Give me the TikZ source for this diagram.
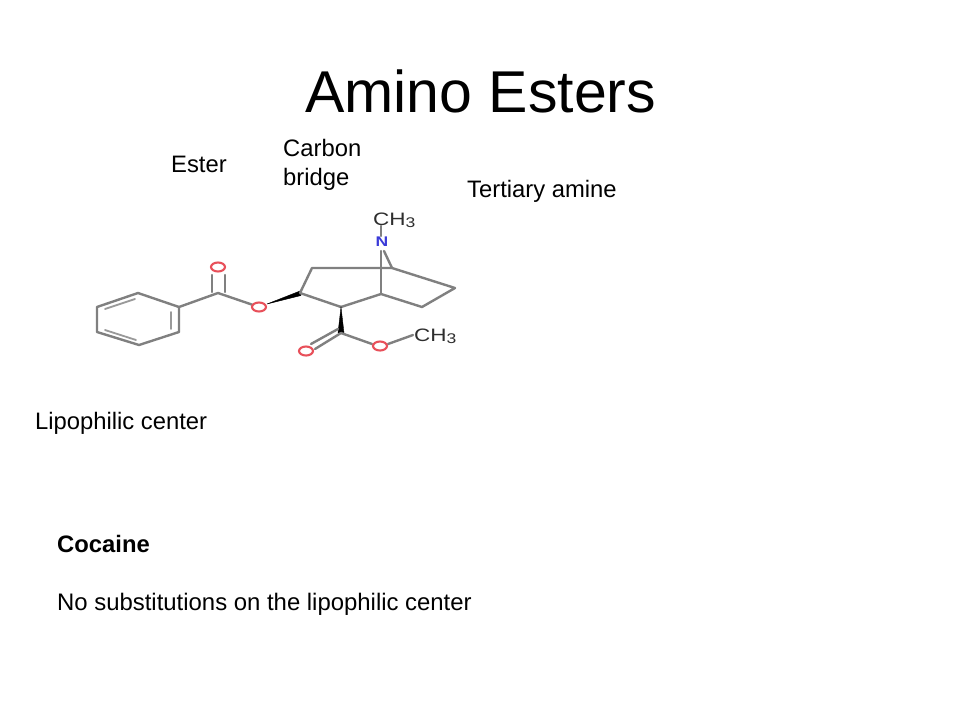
\documentclass[tikz,border=0pt]{standalone}
\usepackage{fontspec}
\setmainfont{Liberation Sans}
\newfontfamily\widefont[FakeStretch=1.25]{Liberation Sans}
\definecolor{bondgray}{HTML}{808080}
\definecolor{oxred}{HTML}{E8505A}
\definecolor{nblue}{HTML}{3A3AD8}
\definecolor{labeltext}{HTML}{2E2E2E}
\tikzset{
  x=1pt,y=-1pt,
  bond/.style={draw=bondgray,line width=2.4pt,line cap=round,line join=round},
  inner/.style={draw=bondgray!80,line width=1.8pt,line cap=round},
  wedgebond/.style={fill=black,draw=black,line width=0.4pt},
  oxy/.style={draw=oxred,line width=2.1pt,fill=white},
  lab/.style={anchor=base west,inner sep=0pt,font=\fontsize{23.8}{28}\selectfont,text=black},
  atom/.style={inner sep=0pt,anchor=base west,font=\widefont\fontsize{18}{20}\selectfont,text=labeltext},
}
\newcommand{\subthree}{\raisebox{-2pt}{\fontsize{14}{14}\selectfont 3}}
\begin{document}
\begin{tikzpicture}
\useasboundingbox (0,0) rectangle (960,720);
\fill[white] (0,0) rectangle (960,720);
% texts
\node[lab,font=\fontsize{59}{64}\selectfont] (title) at (305,112) {Amino Esters};
\node[lab] (carbon) at (283,156) {Carbon};
\node[lab] (bridge) at (283,185) {bridge};
\node[lab] (ester) at (171,172) {Ester};
\node[lab] (amine) at (467,197) {Tertiary amine};
\node[lab] (lipo) at (35,429) {Lipophilic center};
\node[lab,font=\fontsize{23.8}{28}\selectfont\bfseries] (coc) at (57,552) {Cocaine};
\node[lab,font=\fontsize{23.9}{28}\selectfont] (nosub) at (57,610) {No substitutions on the lipophilic center};
% skeleton points
\coordinate (b1) at (97,307);
\coordinate (b2) at (138,293);
\coordinate (b3) at (179,307);
\coordinate (b4) at (179,332);
\coordinate (b5) at (139,345);
\coordinate (b6) at (97,332);
\coordinate (c1) at (218,293);
\coordinate (o1) at (218,267);
\coordinate (o2) at (259,307);
\coordinate (r1) at (300,293);
\coordinate (r2) at (312,268);
\coordinate (r3) at (392,268);
\coordinate (r4) at (455,288);
\coordinate (r5) at (422,307);
\coordinate (r6) at (381,294);
\coordinate (r7) at (341,307);
\coordinate (c2) at (341,333);
\coordinate (o3) at (306,351);
\coordinate (o4) at (380,346);
\coordinate (n) at (382,242);
% benzene
\draw[bond] (b1)--(b2)--(b3)--(b4)--(b5)--(b6)--cycle;
\draw[inner] (105,309)--(135,299);
\draw[inner] (171,312)--(171,329);
\draw[inner] (105,330)--(136,340);
% ester
\draw[bond] (b3)--(c1)--(o2);
\draw[bond] (212,292)--(212,275);
\draw[bond] (225,292)--(225,275);
\draw[wedgebond] (267,304)--(300,291)--(301,295.5)--cycle;
% rings
\draw[bond] (r1)--(r2)--(r3)--(r4)--(r5)--(r6)--(r7)--(r1);
\draw[bond] (r6)--(381,251);
\draw[bond] (r3)--(384,251);
\draw[bond] (381,236)--(381,226);
\draw[wedgebond] (341,307)--(338,333)--(344,333)--cycle;
% carboxyl
\draw[bond] (c2)--(315,349);
\draw[bond] (338,329)--(311,344);
\draw[bond] (c2)--(372,344);
\draw[bond] (388,344)--(413,335);
% atoms
\draw[oxy] (o1) ellipse (7 and 4.5);
\draw[oxy] (o2) ellipse (7 and 4.5);
\draw[oxy] (o3) ellipse (7 and 4.5);
\draw[oxy] (o4) ellipse (7 and 4.5);
\node[atom,anchor=center,text=nblue,font=\widefont\fontsize{14}{16}\selectfont\bfseries] (natom) at (n) {N};
\node[atom] (me1) at (373,225) {CH\subthree};
\node[atom] (me2) at (414,341) {CH\subthree};
\end{tikzpicture}
\end{document}
